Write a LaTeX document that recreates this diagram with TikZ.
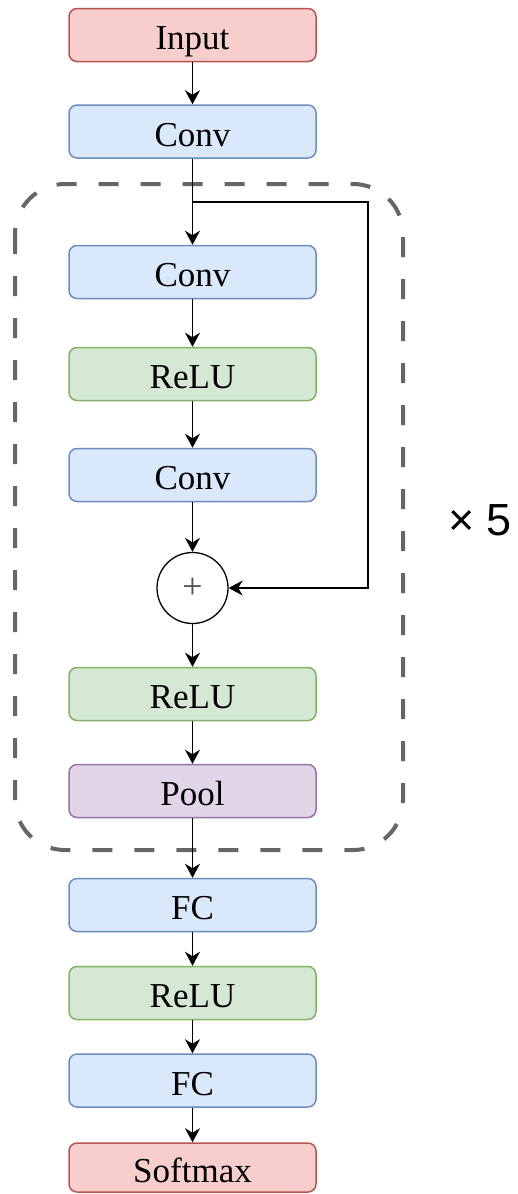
\documentclass[tikz,border=0pt]{standalone}
\usepackage{fontspec}
\setmainfont{Liberation Serif}
\newfontfamily\labelsans{Liberation Sans}
\usetikzlibrary{arrows.meta}
\definecolor{redfill}{HTML}{F8CECC}
\definecolor{redline}{HTML}{B85450}
\definecolor{bluefill}{HTML}{DAE8FC}
\definecolor{blueline}{HTML}{6C8EBF}
\definecolor{greenfill}{HTML}{D5E8D4}
\definecolor{greenline}{HTML}{82B366}
\definecolor{purplefill}{HTML}{E1D5E7}
\definecolor{purpleline}{HTML}{9673A6}
\definecolor{dashgray}{HTML}{666666}
\tikzset{
  layer/.style={rectangle, rounded corners=8pt, minimum width=247pt, minimum height=53pt,
    line width=1.5pt, inner sep=0pt, text height=29pt, text depth=0pt,
    font=\fontsize{35}{40}\selectfont},
  redbox/.style={layer, fill=redfill, draw=redline},
  bluebox/.style={layer, fill=bluefill, draw=blueline},
  greenbox/.style={layer, fill=greenfill, draw=greenline},
  purplebox/.style={layer, fill=purplefill, draw=purpleline},
  arr/.style={line width=1.6pt, -{Stealth[length=14pt,width=15pt,inset=4.5pt]}},
  groupbox/.style={draw=dashgray, line width=4pt, dash pattern=on 20pt off 22pt, rounded corners=50pt}
}
\begin{document}
\begin{tikzpicture}[x=1pt,y=-1pt]
\useasboundingbox (0,0) rectangle (517,1194);
\draw[groupbox] (15,184) rectangle (403,850);
\node[redbox] (input) at (192.5,35) {Input};
\node[bluebox] (conv1) at (192.5,131.5) {Conv};
\node[bluebox] (conv2) at (192.5,272) {Conv};
\node[greenbox] (relu1) at (192.5,374) {ReLU};
\node[bluebox] (conv3) at (192.5,475) {Conv};
\node[circle, draw, line width=1.3pt, minimum size=71pt, inner sep=0pt, text=black!70,
      font=\fontsize{36}{36}\selectfont] (plus) at (192.5,588) {+};
\node[greenbox] (relu2) at (192.5,694) {ReLU};
\node[purplebox] (pool) at (192.5,791) {Pool};
\node[bluebox] (fc1) at (192.5,905) {FC};
\node[greenbox] (relu3) at (192.5,993) {ReLU};
\node[bluebox] (fc2) at (192.5,1080.5) {FC};
\node[redbox, minimum height=49pt] (softmax) at (192.5,1167.5) {Softmax};
\node[font=\labelsans\fontsize{45}{45}\selectfont, inner sep=0pt] (times) at (480,520) {× 5};
\coordinate (split) at (192.5,202);
\coordinate (corner) at (368,202);
\draw[arr] (input) -- (conv1);
\draw[arr] (conv1) -- (conv2);
\draw[arr] (conv2) -- (relu1);
\draw[arr] (relu1) -- (conv3);
\draw[arr] (conv3) -- (plus);
\draw[arr] (plus) -- (relu2);
\draw[arr] (relu2) -- (pool);
\draw[arr] (pool) -- (fc1);
\draw[arr] (fc1) -- (relu3);
\draw[arr] (relu3) -- (fc2);
\draw[arr] (fc2) -- (softmax);
\draw[arr] (split) -- (corner) |- (plus.east);
\end{tikzpicture}
\end{document}
